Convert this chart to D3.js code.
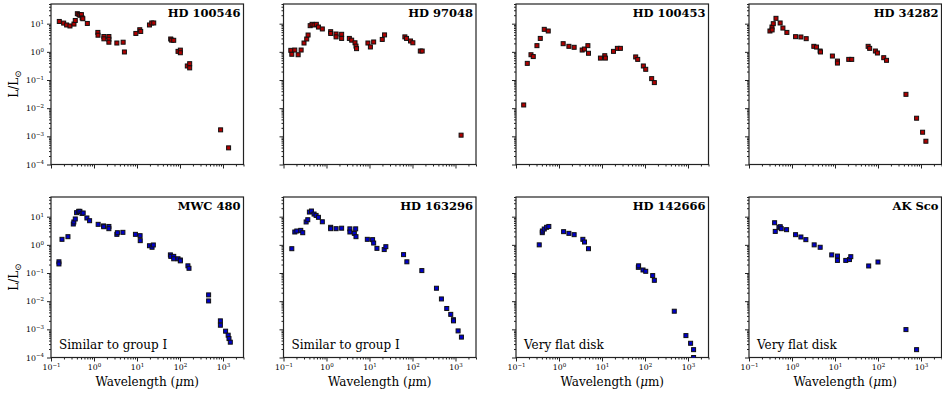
<!DOCTYPE html>
<html>
<head>
<meta charset="utf-8">
<script src="https://cdn.jsdelivr.net/npm/d3@7"></script>
<style>
  body { margin: 0; background: #fff; }
  svg { display: block; }
  text { font-family: "DejaVu Serif", serif; fill: #000; }
</style>
</head>
<body>
<svg id="chart" width="942" height="394"></svg>
<script>
// ---- Spectral energy distributions: wavelength (micron) and luminosity (L/Lsun) ----
const hd100546_wl  = [0.156,0.197,0.231,0.276,0.342,0.367,0.41,0.447,0.47,0.51,0.53,0.55,0.70,1.23,1.24,1.7,1.7,2.22,2.22,2.22,3.4,4.76,5.1,9.4,11.6,12.2,19.5,22,24.5,60.8,64,71.5,90,102,102,148,168,168,880,1350];
const hd100546_lum = [12,10.5,9,8.3,9.7,13,22.6,21,20,21,16,15,10.2,4.9,3.9,3.5,2.9,3.5,2.8,2.2,2.06,2.2,0.99,4.5,6.1,5.3,9,10.6,10.6,2.86,2.6,2.57,1.04,1.15,0.93,0.315,0.38,0.27,1.7e-3,3.9e-4];

const hd97048_wl  = [0.148,0.156,0.183,0.219,0.257,0.30,0.347,0.373,0.417,0.462,0.514,0.58,0.65,0.80,1.25,1.25,1.67,1.67,2.25,2.25,3.4,3.85,4.6,4.85,5.0,9.2,10.5,12.5,19.8,22.4,66.5,72.7,90,102,152,168,1350];
const hd97048_lum = [1.13,0.82,1.16,0.79,1.16,2.06,2.86,3.96,8.5,9.5,9,9.5,7.6,6.5,5.2,4.5,4.3,3.4,4.2,3.0,3.0,2.6,2.1,1.6,1.3,2.06,1.49,2.24,2.76,4.0,3.4,3.0,2.43,2.1,1.07,1.07,1.1e-3];

const hd100453_wl  = [0.151,0.183,0.223,0.252,0.307,0.367,0.454,0.562,1.25,1.7,2.25,3.46,3.9,4.7,4.85,9.2,11.6,12,18.5,22.8,26.8,60.8,67.7,91.6,104,143,165];
const hd100453_lum = [0.013,0.39,0.79,0.68,1.66,3.0,6.3,5.5,1.95,1.57,1.45,1.16,1.26,1.66,0.89,0.6,0.73,0.6,1.04,1.33,1.33,0.66,0.54,0.315,0.24,0.112,0.081];

const hd34282_wl  = [0.307,0.342,0.345,0.367,0.424,0.53,0.615,0.76,1.21,1.61,2.14,3.22,3.72,4.5,4.6,8.7,11.4,11.4,20.9,24.5,59,64,87,97,136,158,447,790,1090,1300];
const hd34282_lum = [5.5,7.6,6.0,10,15.5,10.6,7.0,4.9,3.46,3.37,2.94,1.57,1.48,1.07,0.99,0.71,0.47,0.40,0.54,0.54,1.57,1.33,1.07,0.91,0.62,0.50,0.031,4.4e-3,1.4e-3,6.7e-4];

const mwc480_wl  = [0.153,0.153,0.18,0.248,0.33,0.34,0.367,0.394,0.44,0.47,0.525,0.56,0.684,0.79,1.25,1.67,1.68,2.22,2.22,3.4,3.5,4.7,9.2,11.8,11.9,19.5,22.4,24,59.8,61,71.5,71.5,90,102,102,153,162,463,463,870,870,1150,1320,1380,1480];
const mwc480_lum = [0.25,0.21,1.57,1.95,5.5,6.5,8.3,13.9,15.5,15.5,13.1,13.5,9.0,7.2,5.35,4.7,4.4,4.5,3.75,2.36,2.7,2.78,2.36,2.12,1.41,0.93,0.82,0.99,0.44,0.39,0.39,0.32,0.32,0.29,0.27,0.18,0.147,0.0167,0.0102,2.0e-3,1.4e-3,8.6e-4,6.2e-4,4.7e-4,3.5e-4];

const hd163296_wl  = [0.156,0.183,0.204,0.252,0.28,0.336,0.367,0.40,0.447,0.514,0.573,0.65,0.80,1.25,1.25,1.67,2.25,3.5,3.5,4.44,4.77,4.85,8.9,11.8,12.5,14.9,22,24,62,74,165,361,471,626,776,896,900,1150,1375];
const hd163296_lum = [0.73,2.86,3.1,3.27,2.7,6.5,7.8,14.6,15.9,12.4,11.1,9.5,6.6,4.2,3.75,3.75,3.9,3.7,2.86,2.56,3.7,1.95,1.57,1.53,1.16,0.75,0.68,0.86,0.45,0.25,0.122,0.0288,0.0120,5.5e-3,3.4e-3,2.2e-3,2.0e-3,8.8e-4,5.3e-4];

const hd142666_wl  = [0.347,0.408,0.41,0.454,0.515,0.58,1.28,1.7,2.25,3.59,3.92,4.85,70,71,90,104,151,165,480,895,1150,1350,1350];
const hd142666_lum = [1.0,2.71,3.1,3.65,4.2,4.5,2.94,2.56,2.3,1.57,1.26,0.73,0.159,0.18,0.128,0.115,0.081,0.055,4.4e-3,6.0e-4,3.2e-4,1.9e-4,1.0e-4];

const akSco_wl  = [0.394,0.408,0.497,0.533,0.562,0.748,1.21,1.61,2.1,3.28,4.52,8.4,11.4,11.4,17.8,21.7,23.3,60.8,100,447,790];
const akSco_lum = [6.1,3.0,4.2,4.4,3.75,3.46,2.3,1.9,1.53,1.0,0.82,0.44,0.40,0.28,0.28,0.30,0.38,0.178,0.246,9.8e-4,1.9e-4];

// ---- Panel order, titles and notes ----
const starNames  = ["HD 100546","HD 97048","HD 100453","HD 34282","MWC 480","HD 163296","HD 142666","AK Sco"];
const starWl     = [hd100546_wl,hd97048_wl,hd100453_wl,hd34282_wl,mwc480_wl,hd163296_wl,hd142666_wl,akSco_wl];
const starLum    = [hd100546_lum,hd97048_lum,hd100453_lum,hd34282_lum,mwc480_lum,hd163296_lum,hd142666_lum,akSco_lum];
const starNotes  = [null,null,null,null,"Similar to group I","Similar to group I","Very flat disk","Very flat disk"];
const rowColors  = ["#b00000","#0000cc"];

// ---- Axis ticks ----
const xMajor = [-1,0,1,2,3];          // exponents of 10
const yMajor = [-4,-3,-2,-1,0,1];
const xDomain = [0.1, 3000];
const yDomain = [1e-4, 50];

// ---- Layout ----
const colLeft = [51, 283.5, 516, 749];
const rowTop  = [4, 197];
const pw = 192.5, ph = 160.5;

const svg = d3.select("#chart");

const x = d3.scaleLog().domain(xDomain).range([0, pw]);
const y = d3.scaleLog().domain(yDomain).range([ph, 0]);

function minorTicks(domain) {
  const out = [];
  const lo = Math.floor(Math.log10(domain[0])), hi = Math.ceil(Math.log10(domain[1]));
  for (let e = lo; e <= hi; e++) {
    for (let m = 2; m <= 9; m++) {
      const v = m * Math.pow(10, e);
      if (v >= domain[0] && v <= domain[1]) out.push(v);
    }
  }
  return out;
}
const xMinor = minorTicks(xDomain);
const yMinor = minorTicks(yDomain);

function powLabel(sel, exp) {
  sel.text(null);
  sel.append("tspan").text("10");
  sel.append("tspan")
    .attr("dy", "-0.55em")
    .attr("font-size", "5.5px")
    .text(String(exp).replace("-", "\u2212"));
}

starNames.forEach((name, i) => {
  const row = Math.floor(i / 4), col = i % 4;
  const g = svg.append("g").attr("transform", `translate(${colLeft[col]},${rowTop[row]})`);
  const clipId = "clip" + i;
  g.append("clipPath").attr("id", clipId)
    .append("rect").attr("x", 0).attr("y", 0).attr("width", pw).attr("height", ph);

  // minor ticks
  const xMin = d3.axisBottom(x).tickValues(xMinor).tickSize(2).tickFormat("");
  const yMin = d3.axisLeft(y).tickValues(yMinor).tickSize(2).tickFormat("");
  g.append("g").attr("class", "ax").attr("transform", `translate(0,${ph})`).call(xMin);
  g.append("g").attr("class", "ax").call(yMin);

  // major ticks
  const xMaj = d3.axisBottom(x).tickValues(xMajor.map(e => Math.pow(10, e))).tickSize(4).tickPadding(3);
  const yMaj = d3.axisLeft(y).tickValues(yMajor.map(e => Math.pow(10, e))).tickSize(4).tickPadding(3);
  const gx = g.append("g").attr("class", "ax").attr("transform", `translate(0,${ph})`).call(xMaj);
  const gy = g.append("g").attr("class", "ax").call(yMaj);

  gx.selectAll("text").each(function(d) {
    if (row === 1) powLabel(d3.select(this), Math.round(Math.log10(d)));
    else d3.select(this).remove();
  });
  gy.selectAll("text").each(function(d) {
    if (col === 0) powLabel(d3.select(this), Math.round(Math.log10(d)));
    else d3.select(this).remove();
  });

  svg.selectAll(".ax path.domain").remove();
  svg.selectAll(".ax line").attr("stroke", "#222").attr("stroke-width", 1);
  svg.selectAll(".ax text").attr("font-size", "7.8px").attr("font-family", "DejaVu Serif, serif").attr("fill", "#000");

  // frame
  g.append("rect").attr("x", 0).attr("y", 0).attr("width", pw).attr("height", ph)
    .attr("fill", "none").attr("stroke", "#222").attr("stroke-width", 1.2);

  // data markers
  const pts = starWl[i].map((w, k) => [w, starLum[i][k]]);
  const ms = 4;
  g.append("g").attr("clip-path", `url(#${clipId})`)
    .selectAll("rect.pt").data(pts).join("rect")
    .attr("class", "pt")
    .attr("x", d => x(d[0]) - ms / 2)
    .attr("y", d => y(d[1]) - ms / 2)
    .attr("width", ms).attr("height", ms)
    .attr("fill", rowColors[row])
    .attr("stroke", "#111").attr("stroke-width", 1);

  // title
  g.append("text").attr("x", pw - 3).attr("y", 13)
    .attr("text-anchor", "end").attr("font-weight", "bold").attr("font-size", "11.5px")
    .text(name);

  // note
  if (starNotes[i]) {
    g.append("text").attr("x", 8).attr("y", ph - 9)
      .attr("font-size", "12px").text(starNotes[i]);
  }

  // axis labels
  if (col === 0) {
    const t = svg.append("text")
      .attr("transform", `translate(18,${rowTop[row] + ph / 2}) rotate(-90)`)
      .attr("text-anchor", "middle").attr("font-size", "12px");
    t.append("tspan").text("L/L");
    t.append("tspan").attr("dy", "0.3em").attr("font-size", "8.5px").text("\u2299");
  }
  if (row === 1) {
    const t = svg.append("text")
      .attr("x", colLeft[col] + pw / 2).attr("y", rowTop[row] + ph + 28)
      .attr("text-anchor", "middle").attr("font-size", "12px");
    t.append("tspan").text("Wavelength (");
    t.append("tspan").attr("font-style", "italic").text("\u03bc");
    t.append("tspan").text("m)");
  }
});
</script>
</body>
</html>
